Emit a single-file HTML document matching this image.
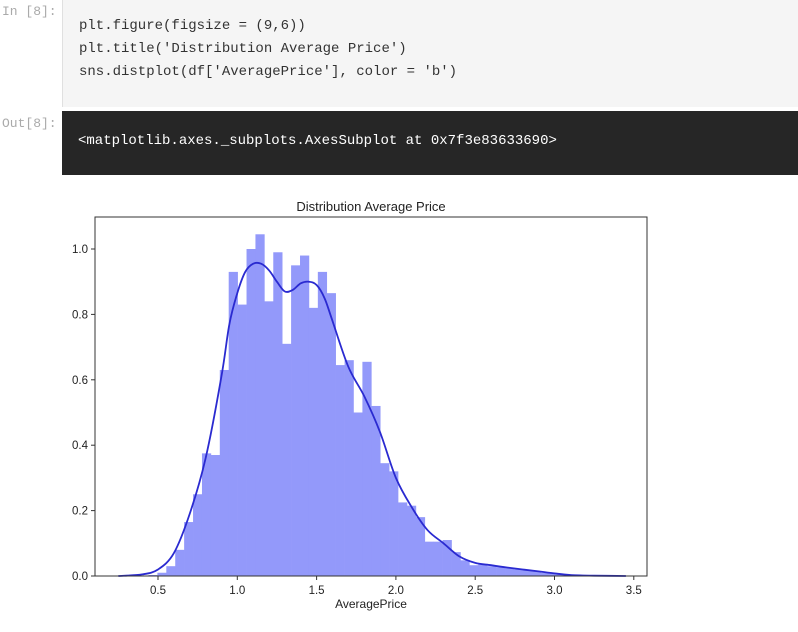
<!DOCTYPE html>
<html><head><meta charset="utf-8"><style>
body{margin:0;width:798px;height:632px;background:#fff;overflow:hidden;position:relative;font-family:"Liberation Sans",sans-serif}
.prompt{position:absolute;left:2px;font:13px "Liberation Mono",monospace;color:#aaa}
.code{position:absolute;left:62px;top:0;width:736px;height:107px;background:#f5f5f5;border-left:1px solid #e0e0e0}
.code pre{margin:0;position:absolute;left:16px;top:15px;font:14px/23px "Liberation Mono",monospace;color:#333}
.out{position:absolute;left:62px;top:111px;width:736px;height:64px;background:#262626}
.out pre{margin:0;position:absolute;left:16px;top:22px;font:14px "Liberation Mono",monospace;color:#fff}
</style></head><body>
<div class="prompt" style="top:4px">In [8]:</div>
<div class="code"><pre>plt.figure(figsize = (9,6))
plt.title('Distribution Average Price')
sns.distplot(df['AveragePrice'], color = 'b')</pre></div>
<div class="prompt" style="top:116px">Out[8]:</div>
<div class="out"><pre>&lt;matplotlib.axes._subplots.AxesSubplot at 0x7f3e83633690&gt;</pre></div>
<svg id="chart" width="798" height="632" style="position:absolute;left:0;top:0" xmlns="http://www.w3.org/2000/svg"></svg>
<script>
const binStart = 0.44;
const binWidth = 0.0562;
const binHeights = [0.003,0.01,0.03,0.08,0.165,0.25,0.375,0.37,0.63,0.93,0.83,1.00,1.045,0.84,0.99,0.71,0.95,0.98,0.82,0.93,0.865,0.645,0.66,0.50,0.655,0.52,0.345,0.32,0.225,0.215,0.18,0.105,0.105,0.11,0.073,0.048,0.033,0.036,0.03,0.027,0.024,0.02,0.018,0.014,0.01,0.008,0.006,0.004,0.003,0.002];
const kdeX = [0.25,0.4,0.5,0.6,0.7,0.8,0.9,0.95,1.0,1.05,1.1,1.15,1.2,1.25,1.3,1.35,1.4,1.45,1.5,1.55,1.6,1.7,1.8,1.9,2.0,2.1,2.2,2.3,2.4,2.5,2.6,2.7,2.8,2.9,3.0,3.1,3.25,3.45];
const kdeY = [0,0.005,0.02,0.07,0.19,0.36,0.61,0.77,0.865,0.93,0.955,0.955,0.935,0.9,0.87,0.875,0.895,0.9,0.89,0.85,0.78,0.64,0.55,0.44,0.30,0.21,0.14,0.10,0.06,0.04,0.033,0.026,0.02,0.014,0.008,0.003,0.001,0];
const xTicks = [0.5,1.0,1.5,2.0,2.5,3.0,3.5];
const yTicks = [0.0,0.2,0.4,0.6,0.8,1.0];
const L=95,R=647,T=217,B=576;
const sx=v=>158+(v-0.5)*158.6;
const sy=v=>576-v*327;
const svg=document.getElementById('chart');
const NS='http://www.w3.org/2000/svg';
function mk(t,a){const e=document.createElementNS(NS,t);for(const k in a)e.setAttribute(k,a[k]);svg.appendChild(e);return e;}
binHeights.forEach((h,i)=>{
  const x0=sx(binStart+i*binWidth), x1=sx(binStart+(i+1)*binWidth);
  const r=mk('rect',{x:x0,y:sy(h),width:x1-x0+0.3,height:sy(0)-sy(h),fill:'#9399fa'});
  
  
});
const pts=kdeX.map((x,i)=>[sx(x),sy(kdeY[i])]);
let d='M'+pts[0][0]+','+pts[0][1];
for(let i=0;i<pts.length-1;i++){
  const p0=pts[Math.max(0,i-1)],p1=pts[i],p2=pts[i+1],p3=pts[Math.min(pts.length-1,i+2)];
  const c1=[p1[0]+(p2[0]-p0[0])/6,p1[1]+(p2[1]-p0[1])/6];
  const c2=[p2[0]-(p3[0]-p1[0])/6,p2[1]-(p3[1]-p1[1])/6];
  d+='C'+c1.map(n=>n.toFixed(1))+' '+c2.map(n=>n.toFixed(1))+' '+p2.map(n=>n.toFixed(1));
}
const p=mk('path',{d:d,fill:'none',stroke:'#2a2ad0','stroke-width':1.8,'stroke-linejoin':'round'});


const f=mk('rect',{x:L,y:T,width:R-L,height:B-T,fill:'none',stroke:'#333','stroke-width':1});


xTicks.forEach(v=>{
  const x=sx(v);
  mk('line',{x1:x,y1:B,x2:x,y2:B+4,stroke:'#333'});
  const t=mk('text',{x:x,y:B+18,'text-anchor':'middle','font-size':11.5,fill:'#222'});
  t.textContent=v.toFixed(1);
  
  
});
yTicks.forEach(v=>{
  const y=sy(v);
  mk('line',{x1:L-4,y1:y,x2:L,y2:y,stroke:'#333'});
  const t=mk('text',{x:L-7,y:y+4,'text-anchor':'end','font-size':11.5,fill:'#222'});
  t.textContent=v.toFixed(1);
  
  
});
const xt=mk('text',{x:371,y:608,'text-anchor':'middle','font-size':12,fill:'#222'});
xt.textContent='AveragePrice';


const tt=mk('text',{x:371,y:211,'text-anchor':'middle','font-size':13,fill:'#222'});
tt.textContent='Distribution Average Price';


</script>
</body></html>
